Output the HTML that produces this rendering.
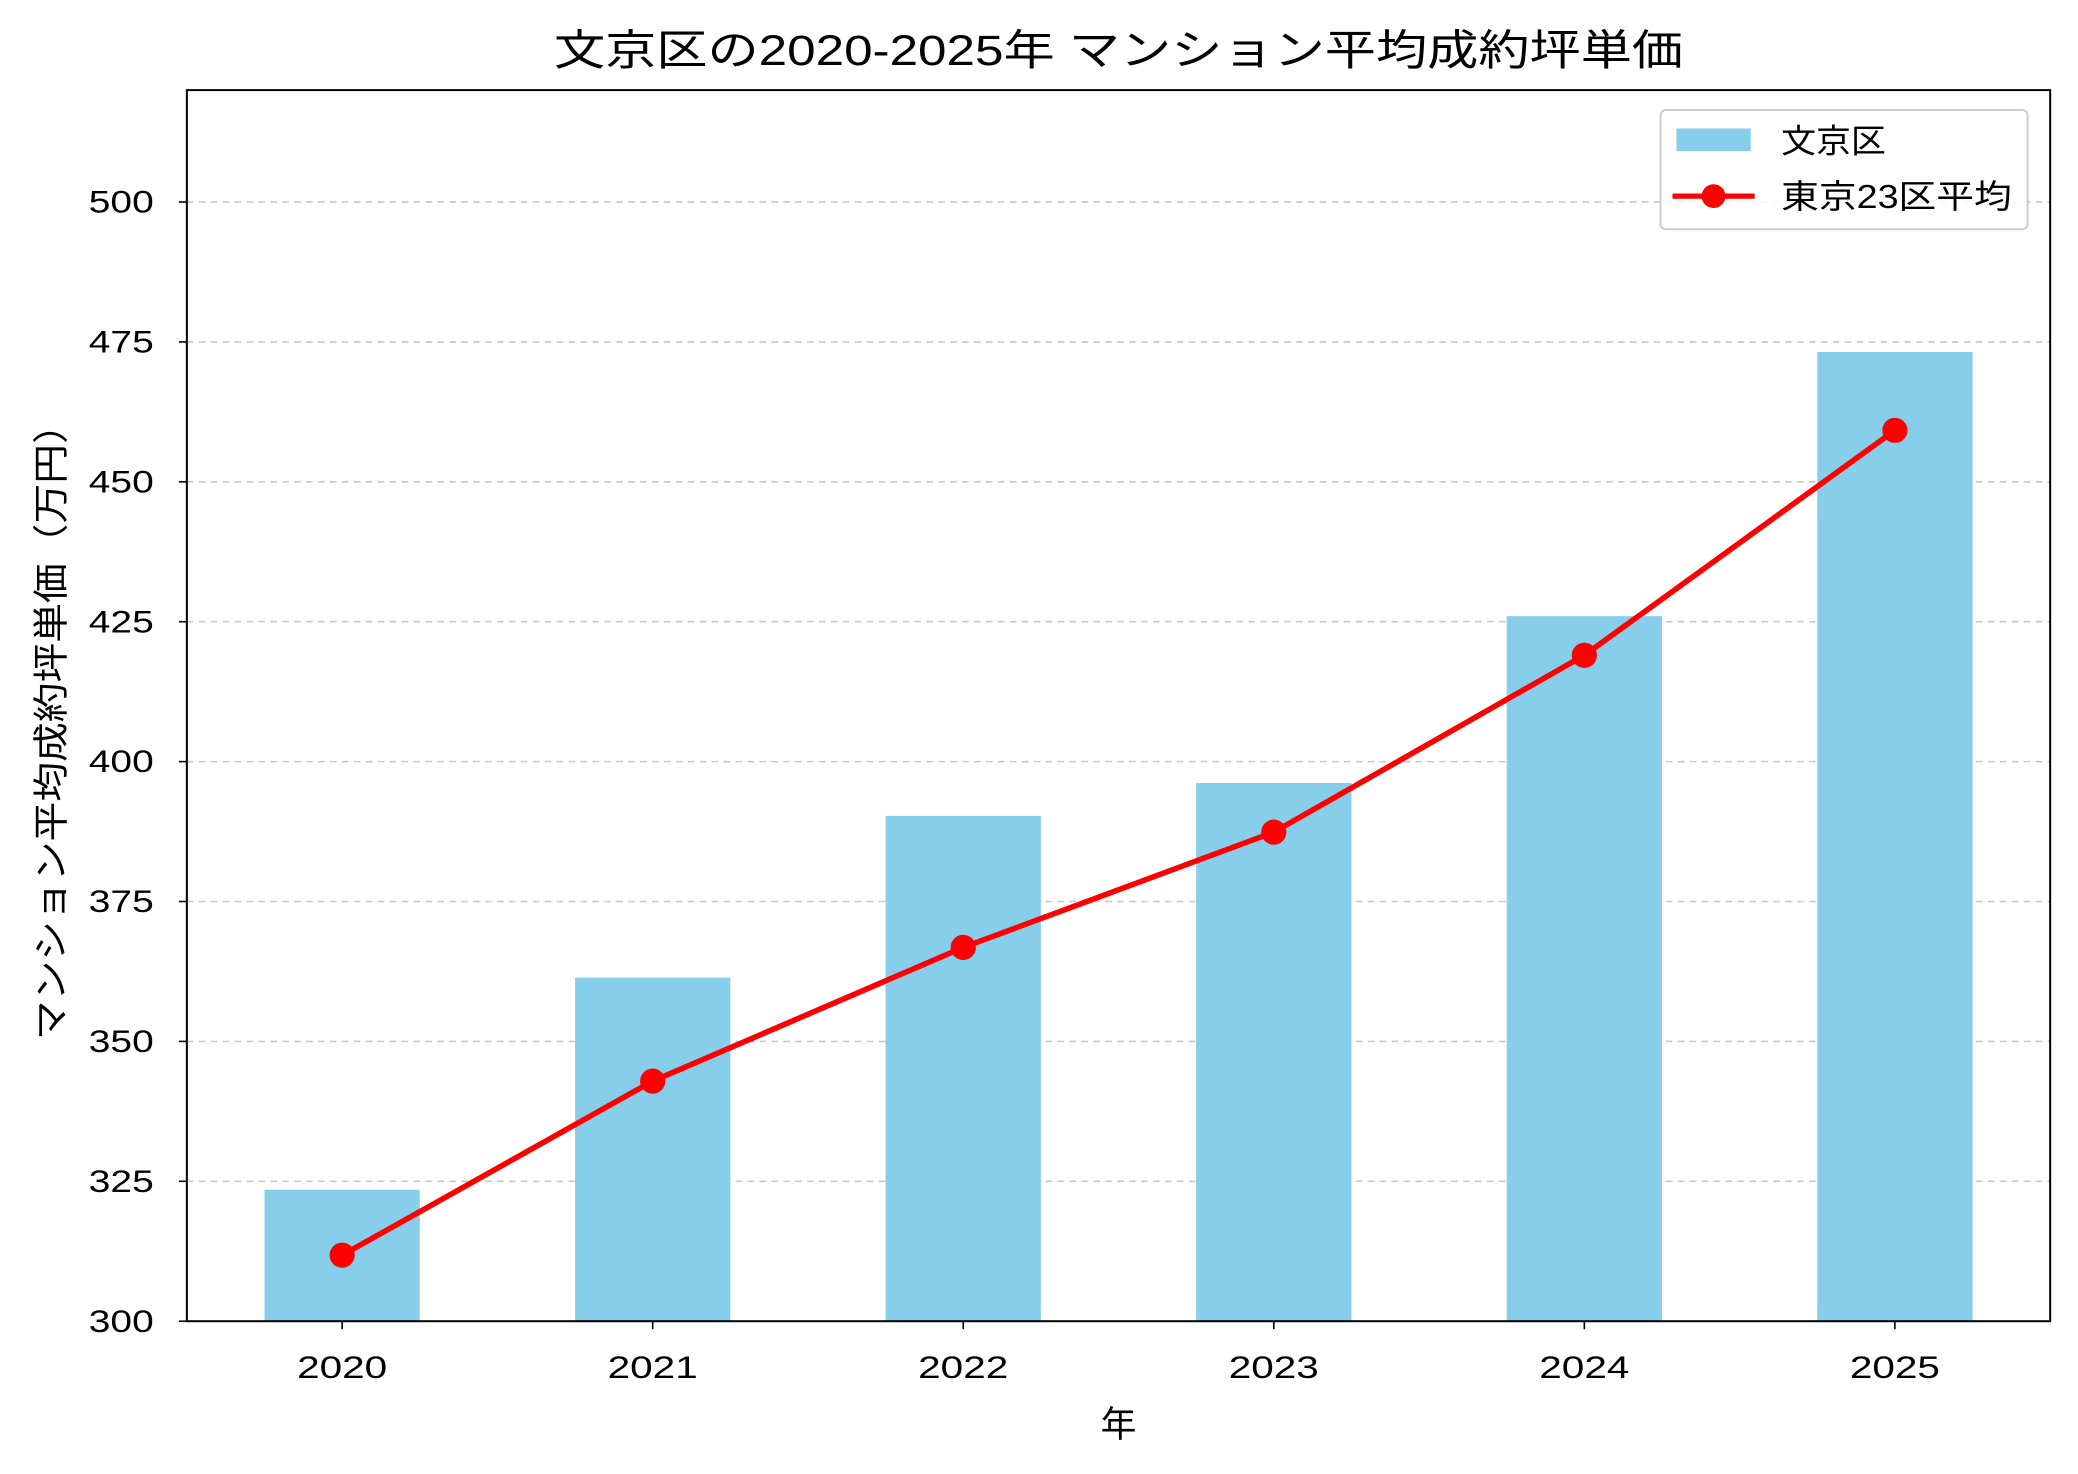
<!DOCTYPE html>
<html><head><meta charset="utf-8"><style>
html,body{margin:0;padding:0;background:#fff;}
svg{display:block;font-family:"Liberation Sans","Noto Sans CJK JP",sans-serif;}
</style></head><body>
<svg id="chart" width="2078" height="1474" viewBox="0 0 1568 1112.3" preserveAspectRatio="none">
<rect x="0" y="0" width="1568" height="1112.3" fill="#fff"/>
<text x="418" y="49" font-size="32" textLength="852" lengthAdjust="spacingAndGlyphs" fill="#000">文京区の2020-2025年 マンション平均成約坪単価</text>
<g id="grid"></g>
<g id="bars"></g>
<g id="line"></g>
<rect x="141" y="68" width="1406" height="929" fill="none" stroke="#000" stroke-width="1.5"/>
<g id="yticks"></g>
<g id="xticks"></g>
<text x="844" y="1084" font-size="27" text-anchor="middle">年</text>
<text transform="translate(48,785) rotate(-90)" font-size="27" textLength="480" lengthAdjust="spacingAndGlyphs">マンション平均成約坪単価（万円）</text>
<g>
<rect x="1253" y="83" width="277" height="90" rx="4" fill="#fff" fill-opacity="0.85" stroke="#ccc" stroke-width="1.5"/>
<rect x="1265" y="97" width="56" height="17" fill="#87CEEB"/>
<text x="1344" y="115" font-size="25" textLength="79" lengthAdjust="spacingAndGlyphs">文京区</text>
<line x1="1262" y1="148" x2="1324" y2="148" stroke="#f00" stroke-width="4"/>
<circle cx="1293" cy="148" r="9" fill="#f00"/>
<text x="1344" y="157" font-size="25" textLength="174" lengthAdjust="spacingAndGlyphs">東京23区平均</text>
</g>
</svg>
<script>
const categories = ["2020","2021","2022","2023","2024","2025"];
const bunkyoValues = [323.5, 361.4, 390.3, 396.2, 426.0, 473.2];
const tokyoAvgValues = [311.8, 342.9, 366.8, 387.4, 419.0, 459.2];
const yTickLabels = [300,325,350,375,400,425,450,475,500];
const NS="http://www.w3.org/2000/svg";
const L=141,R=1547,T=68,B=997,YMIN=300,YMAX=520;
const xS=i=>L+(i+0.5)/6*(R-L);
const yS=v=>B-(v-YMIN)/(YMAX-YMIN)*(B-T);
function mk(tag,attrs,parent){const e=document.createElementNS(NS,tag);for(const k in attrs)e.setAttribute(k,attrs[k]);parent.appendChild(e);return e;}
const grid=document.getElementById('grid'),bars=document.getElementById('bars'),line=document.getElementById('line'),yt=document.getElementById('yticks'),xt=document.getElementById('xticks');
yTickLabels.forEach(v=>{
 const y=yS(v);
 if(v>YMIN){const g=mk('line',{x1:L,x2:R,y1:y,y2:y,stroke:'#b0b0b0','stroke-width':1.2,'stroke-dasharray':'5,4','stroke-opacity':0.7},grid);
 
 }
 const t=mk('line',{x1:L-6,x2:L,y1:y,y2:y,stroke:'#000','stroke-width':1.2},yt);
 
 
 const tx=mk('text',{x:L-74,y:y+8,'font-size':24,textLength:49,lengthAdjust:'spacingAndGlyphs'},yt);tx.textContent=v;
 
 
});
const bw=(R-L)/6*0.5;
categories.forEach((c,i)=>{
 const x=xS(i);
 const r=mk('rect',{x:x-bw/2,y:yS(bunkyoValues[i]),width:bw,height:B-yS(bunkyoValues[i]),fill:'#87CEEB'},bars);
 
 
 const t=mk('line',{x1:x,x2:x,y1:B,y2:B+6,stroke:'#000','stroke-width':1.2},xt);
 
 
 const tx=mk('text',{x:x-34,y:B+43,'font-size':24,textLength:68,lengthAdjust:'spacingAndGlyphs'},xt);tx.textContent=c;
 
 
});
const pl=mk('polyline',{points:tokyoAvgValues.map((v,i)=>xS(i)+','+yS(v)).join(' '),fill:'none',stroke:'#f00','stroke-width':4.2},line);


tokyoAvgValues.forEach((v,i)=>{
 const c=mk('circle',{cx:xS(i),cy:yS(v),r:9.5,fill:'#f00'},line);
 
 
});
</script>
</body></html>
